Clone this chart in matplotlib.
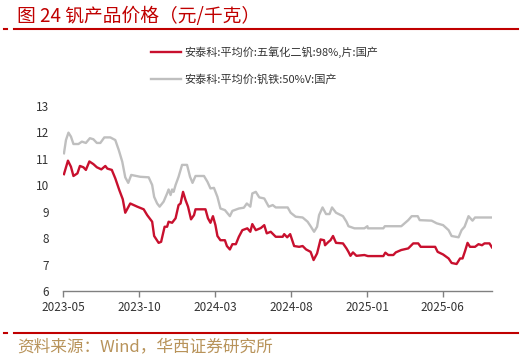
import pandas as pd
import matplotlib.pyplot as plt
import matplotlib.dates as mdates

plt.rcParams['font.family'] = ['Noto Sans CJK SC', 'DejaVu Sans']

# 安泰科:平均价:五氧化二钒:98%,片:国产
v2o5_dates = ['2023-05-03', '2023-05-11', '2023-05-17', '2023-05-22', '2023-05-30', '2023-06-04',
              '2023-06-11', '2023-06-16', '2023-06-23', '2023-07-01', '2023-07-08', '2023-07-17',
              '2023-07-25', '2023-07-29', '2023-08-07', '2023-08-14', '2023-08-22', '2023-08-29',
              '2023-09-03', '2023-09-13', '2023-09-27', '2023-10-10', '2023-10-17', '2023-10-27',
              '2023-10-31', '2023-11-09', '2023-11-14', '2023-11-21', '2023-11-26', '2023-11-29',
              '2023-12-06', '2023-12-13', '2023-12-19', '2023-12-23', '2023-12-28', '2024-01-02',
              '2024-01-07', '2024-01-13', '2024-01-19', '2024-01-22', '2024-02-11', '2024-02-16',
              '2024-02-21', '2024-02-26', '2024-03-02', '2024-03-06', '2024-03-12', '2024-03-21',
              '2024-03-25', '2024-03-31', '2024-04-05', '2024-04-12', '2024-04-18', '2024-04-25',
              '2024-05-05', '2024-05-11', '2024-05-15', '2024-05-22', '2024-06-01', '2024-06-08',
              '2024-06-13', '2024-06-21', '2024-07-01', '2024-07-15', '2024-07-18', '2024-07-24',
              '2024-07-30', '2024-08-07', '2024-08-17', '2024-08-24', '2024-08-31', '2024-09-09',
              '2024-09-15', '2024-09-22', '2024-09-29', '2024-10-06', '2024-10-08', '2024-10-15',
              '2024-10-19', '2024-10-24', '2024-10-30', '2024-11-13', '2024-11-20', '2024-11-24',
              '2024-11-28', '2024-12-03', '2024-12-10', '2024-12-26', '2025-01-02', '2025-02-02',
              '2025-02-06', '2025-02-12', '2025-02-22', '2025-02-27', '2025-03-10', '2025-03-24',
              '2025-04-03', '2025-04-13', '2025-04-18', '2025-05-17', '2025-05-22', '2025-06-02',
              '2025-06-13', '2025-06-19', '2025-06-29', '2025-07-06', '2025-07-11', '2025-07-16',
              '2025-07-21', '2025-07-26', '2025-08-05', '2025-08-12', '2025-08-19', '2025-08-24',
              '2025-09-03', '2025-09-08']
v2o5_vals = [10.42, 10.93, 10.70, 10.35, 10.45, 10.73, 10.68, 10.58, 10.90, 10.80, 10.68, 10.60,
             10.73, 10.63, 10.58, 10.26, 9.82, 9.47, 8.96, 9.31, 9.19, 9.09, 8.87, 8.62,
             8.08, 7.82, 7.86, 8.43, 8.43, 8.62, 8.58, 8.75, 9.25, 9.31, 9.75, 9.44,
             9.19, 8.71, 8.87, 9.09, 9.09, 8.75, 8.58, 8.83, 8.49, 8.08, 7.92, 7.92,
             7.70, 7.57, 7.77, 7.77, 8.05, 8.30, 8.37, 8.24, 8.53, 8.30, 8.38, 8.49,
             8.18, 8.24, 8.05, 8.05, 8.15, 8.03, 8.15, 7.70, 7.67, 7.70, 7.57, 7.48,
             7.17, 7.42, 7.95, 7.92, 7.73, 7.86, 7.92, 8.08, 7.82, 7.80, 7.61, 7.48,
             7.33, 7.46, 7.33, 7.36, 7.32, 7.32, 7.45, 7.36, 7.36, 7.46, 7.55, 7.61,
             7.80, 7.80, 7.67, 7.67, 7.48, 7.38, 7.23, 7.06, 7.02, 7.23, 7.23, 7.51,
             7.82, 7.67, 7.67, 7.77, 7.73, 7.80, 7.80, 7.65]

# 安泰科:平均价:钒铁:50%V:国产
fev_dates = ['2023-05-03', '2023-05-07', '2023-05-12', '2023-05-17', '2023-05-22', '2023-06-01',
             '2023-06-08', '2023-06-16', '2023-06-24', '2023-07-01', '2023-07-08', '2023-07-15',
             '2023-07-23', '2023-08-04', '2023-08-14', '2023-08-21', '2023-08-28', '2023-09-03',
             '2023-09-09', '2023-09-15', '2023-10-03', '2023-10-20', '2023-10-27', '2023-10-31',
             '2023-11-06', '2023-11-11', '2023-11-19', '2023-11-26', '2023-11-29', '2023-12-03',
             '2023-12-06', '2023-12-09', '2023-12-13', '2023-12-19', '2023-12-26', '2024-01-05',
             '2024-01-11', '2024-01-16', '2024-01-22', '2024-02-08', '2024-02-15', '2024-02-21',
             '2024-02-28', '2024-03-06', '2024-03-12', '2024-03-21', '2024-03-31', '2024-04-05',
             '2024-04-18', '2024-04-28', '2024-05-04', '2024-05-11', '2024-05-15', '2024-05-22',
             '2024-05-29', '2024-06-08', '2024-06-17', '2024-06-25', '2024-07-01', '2024-07-25',
             '2024-07-31', '2024-08-10', '2024-08-24', '2024-09-03', '2024-09-09', '2024-09-16',
             '2024-09-22', '2024-09-26', '2024-10-03', '2024-10-10', '2024-10-17', '2024-10-22',
             '2024-10-30', '2024-11-13', '2024-11-20', '2024-11-24', '2024-12-06', '2024-12-26',
             '2025-01-01', '2025-01-02', '2025-02-02', '2025-02-05', '2025-03-10', '2025-03-24',
             '2025-03-31', '2025-04-12', '2025-04-16', '2025-05-10', '2025-05-20', '2025-06-02',
             '2025-06-13', '2025-06-19', '2025-07-03', '2025-07-09', '2025-07-15', '2025-07-23',
             '2025-07-31', '2025-08-05', '2025-09-08']
fev_vals = [11.21, 11.71, 11.99, 11.84, 11.56, 11.56, 11.65, 11.60, 11.78, 11.74, 11.60, 11.60,
            11.81, 11.81, 11.71, 11.33, 10.89, 10.30, 10.09, 10.39, 10.32, 10.30, 10.01, 9.56,
            9.31, 9.19, 9.38, 9.69, 9.84, 9.63, 9.84, 9.75, 10.01, 10.32, 10.77, 10.77,
            10.32, 10.09, 10.35, 10.35, 10.13, 9.88, 9.90, 9.56, 9.12, 9.06, 8.83, 9.03,
            9.12, 9.15, 9.31, 9.19, 9.69, 9.75, 9.54, 9.50, 9.19, 9.25, 9.16, 9.16,
            8.96, 8.81, 8.78, 8.62, 8.45, 8.24, 8.43, 8.87, 9.16, 8.91, 8.91, 9.16,
            8.96, 8.83, 8.62, 8.45, 8.37, 8.37, 8.45, 8.37, 8.37, 8.45, 8.45, 8.68,
            8.83, 8.83, 8.68, 8.66, 8.56, 8.49, 8.30, 8.08, 8.03, 8.30, 8.43, 8.83,
            8.66, 8.78, 8.78]

y_ticks = [6, 7, 8, 9, 10, 11, 12, 13]
x_ticks = ['2023-05', '2023-10', '2024-03', '2024-08', '2025-01', '2025-06']

red = '#C8102E'
gray = '#BFBFBF'

fig = plt.figure(figsize=(5.27, 3.61), dpi=100)
ax = fig.add_axes([0.1195, 0.194, 0.814, 0.5125])

ax.plot(pd.to_datetime(v2o5_dates), v2o5_vals, color=red, lw=1.7,
        label='安泰科:平均价:五氧化二钒:98%,片:国产')
ax.plot(pd.to_datetime(fev_dates), fev_vals, color=gray, lw=1.7,
        label='安泰科:平均价:钒铁:50%V:国产')

ax.set_ylim(6, 13)
ax.set_yticks(y_ticks)
ax.set_xlim(pd.Timestamp('2023-05-01'), pd.Timestamp(v2o5_dates[-1]))
ax.set_xticks(pd.to_datetime(x_ticks))
ax.xaxis.set_major_formatter(mdates.DateFormatter('%Y-%m'))

for s in ['top', 'right', 'left']:
    ax.spines[s].set_visible(False)
ax.spines['bottom'].set_color('#808080')
ax.spines['bottom'].set_linewidth(1.0)
ax.tick_params(axis='x', length=4, width=1, color='#808080', labelsize=8.5,
               labelcolor='#333333', pad=3)
ax.tick_params(axis='y', length=0, labelsize=8.5, labelcolor='#333333', pad=10)

ax.legend(loc='upper left', bbox_to_anchor=(0.182, 1.375), frameon=False, fontsize=8,
          handlelength=2.7, handletextpad=0.3, labelspacing=1.4, labelcolor='#333333')

# 标题和来源
fig.text(0.032, 0.955, '图 24 钒产品价格（元/千克）', color='#C00000', fontsize=13.5,
         va='center', ha='left')
fig.add_artist(plt.Line2D([0.027, 0.983], [0.919, 0.919], color='#C00000', lw=1.5))
fig.add_artist(plt.Line2D([0.008, 0.013], [0.919, 0.919], color='#C00000', lw=1.5))
fig.add_artist(plt.Line2D([0.027, 0.983], [0.078, 0.078], color='#C00000', lw=1.5))
fig.add_artist(plt.Line2D([0.008, 0.013], [0.078, 0.078], color='#C00000', lw=1.5))
fig.text(0.032, 0.038, '资料来源：Wind，华西证券研究所', color='#B8935A', fontsize=12,
         va='center', ha='left')

fig.savefig('out.png', dpi=100)
